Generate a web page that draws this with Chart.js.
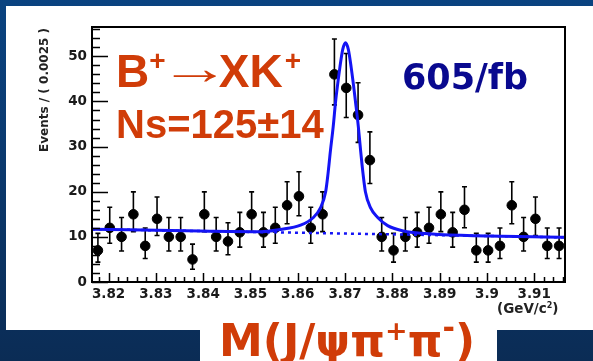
<!DOCTYPE html>
<html>
<head>
<meta charset="utf-8">
<script src="https://cdn.jsdelivr.net/npm/chart.js@4.4.0/dist/chart.umd.min.js"></script>
<style>
  html, body { margin: 0; padding: 0; }
  body {
    width: 593px; height: 361px; overflow: hidden; position: relative;
    background: linear-gradient(180deg, #0a4380 0%, #0b3a70 40%, #0b2c55 100%);
  }
  .panel { position: absolute; left: 6px; top: 6px; width: 587px; height: 324px; background: #fff; }
  .tab   { position: absolute; left: 200px; top: 329px; width: 297px; height: 40px; background: #fff; }
  #plot  { position: absolute; left: 0; top: 0; }
</style>
</head>
<body>
<div class="panel"></div>
<div class="tab"></div>
<canvas id="plot" width="593" height="361"></canvas>
<script>
// bin centres, 0.0025 GeV wide bins
const massBins = [
  3.81775, 3.82025, 3.82275, 3.82525, 3.82775, 3.83025, 3.83275, 3.83525, 3.83775, 3.84025,
  3.84275, 3.84525, 3.84775, 3.85025, 3.85275, 3.85525, 3.85775, 3.86025, 3.86275, 3.86525,
  3.86775, 3.87025, 3.87275, 3.87525, 3.87775, 3.88025, 3.88275, 3.88525, 3.88775, 3.89025,
  3.89275, 3.89525, 3.89775, 3.90025, 3.90275, 3.90525, 3.90775, 3.91025, 3.91275, 3.91525
];
const events = [
  7, 12, 10, 15, 8, 14, 10, 10, 5, 15,
  10, 9, 11, 15, 11, 12, 17, 19, 12, 15,
  46, 43, 37, 27, 10, 7, 10, 11, 12, 15,
  11, 16, 7, 7, 8, 17, 10, 14, 8, 8
];

// fitted signal + background curve
const fitMass = [
  3.8165, 3.8394, 3.8521, 3.8563, 3.8606, 3.8633, 3.8648, 3.8659, 3.8664, 3.8669,
  3.8675, 3.8680, 3.8684, 3.8689, 3.8695, 3.8701, 3.8707, 3.8713, 3.8718, 3.8722,
  3.8728, 3.8733, 3.8738, 3.8743, 3.8754, 3.8769, 3.8790, 3.8824, 3.8860, 3.9165
];
const fitEvents = [
  11.7, 11.3, 11.15, 11.65, 12.6, 14.3, 16.4, 20, 24, 29,
  34.5, 40, 43.5, 47.5, 51.5, 53, 51.5, 47.5, 43.5, 40,
  34.5, 29, 24, 20, 16.4, 14.3, 12.5, 11.3, 10.8, 9.9
];

// background component only (dotted)
const bkgMass = [3.8165, 3.9165];
const bkgEvents = [11.7, 9.9];

const xTicks = [3.82, 3.83, 3.84, 3.85, 3.86, 3.87, 3.88, 3.89, 3.90, 3.91];
const yTicks = [0, 10, 20, 30, 40, 50];

const ORANGE = '#d03c08';
const BLUE = '#1414f5';

// poisson 68% interval half-widths
function errLow(n)  { return n > 0 ? Math.sqrt(n - 0.25) : 0; }
function errHigh(n) { return Math.sqrt(n + 0.75) + 1; }

// draw text made of pieces: [text, font, raise, stretchX, shiftBefore, shiftAfter]
function drawRuns(ctx, x, y, runs) {
  runs.forEach(([t, f, dy, sx, pre, post]) => {
    sx = sx || 1;
    x += pre || 0;
    ctx.font = f;
    ctx.save();
    ctx.translate(x, y - (dy || 0));
    ctx.scale(sx, 1);
    ctx.fillText(t, 0, 0);
    ctx.restore();
    x += ctx.measureText(t).width * sx + (post || 0);
  });
}

const rootStyle = {
  id: 'rootStyle',
  beforeDatasetsDraw(chart) {
    const { ctx, scales: { x, y } } = chart;
    ctx.save();
    ctx.strokeStyle = '#000';
    ctx.lineWidth = 1.6;
    massBins.forEach((m, i) => {
      const n = events[i];
      const px = x.getPixelForValue(m);
      const y1 = y.getPixelForValue(n - errLow(n));
      const y2 = y.getPixelForValue(n + errHigh(n));
      ctx.beginPath();
      ctx.moveTo(px, y1); ctx.lineTo(px, y2);
      ctx.moveTo(px - 2.5, y1); ctx.lineTo(px + 2.5, y1);
      ctx.moveTo(px - 2.5, y2); ctx.lineTo(px + 2.5, y2);
      ctx.stroke();
    });
    ctx.restore();
  },
  afterDraw(chart) {
    const { ctx, chartArea: a, scales: { x, y } } = chart;
    ctx.save();
    ctx.strokeStyle = '#000';

    // inner ticks, left axis
    ctx.lineWidth = 1.5;
    ctx.beginPath();
    for (let v = 0; v <= 56; v += 2) {
      const py = Math.round(y.getPixelForValue(v)) + 0.5;
      const len = v % 10 === 0 ? 16 : 8;
      ctx.moveTo(a.left, py); ctx.lineTo(a.left + len, py);
    }
    // inner ticks, bottom axis
    for (let k = 0; k <= 50; k++) {
      const v = 3.818 + k * 0.002;
      if (v > 3.9165) break;
      const px = Math.round(x.getPixelForValue(v)) + 0.5;
      const len = k % 5 === 1 ? 9 : 5;
      ctx.moveTo(px, a.bottom); ctx.lineTo(px, a.bottom - len);
    }
    ctx.stroke();

    // frame
    ctx.lineWidth = 2;
    ctx.strokeRect(a.left, a.top, a.right - a.left, a.bottom - a.top);

    // axis titles
    ctx.fillStyle = '#222';
    ctx.save();
    ctx.translate(45, a.top + 1);
    ctx.rotate(-Math.PI / 2);
    ctx.textAlign = 'right';
    ctx.textBaseline = 'middle';
    ctx.font = 'bold 12px "DejaVu Sans"';
    ctx.fillText('Events / ( 0.0025 )', 0, 0);
    ctx.restore();

    ctx.textAlign = 'left';
    ctx.textBaseline = 'alphabetic';
    drawRuns(ctx, 497, 313, [
      ['(GeV/c', 'bold 13.5px "DejaVu Sans"'],
      ['2', 'bold 8px "DejaVu Sans"', 5],
      [')', 'bold 13.5px "DejaVu Sans"']
    ]);

    // labels on the plot
    ctx.fillStyle = ORANGE;
    drawRuns(ctx, 116, 87, [
      ['B', 'bold 46px "Liberation Sans"'],
      ['+', 'bold 28px "Liberation Sans"', 17],
      ['\u2192', '46px "Liberation Sans"', 3, 1.55, -6, -12],
      ['XK', 'bold 46px "Liberation Sans"'],
      ['+', 'bold 28px "Liberation Sans"', 17, 1, 2]
    ]);
    ctx.font = 'bold 40px "Liberation Sans"';
    ctx.fillText('Ns=125\u00b114', 116, 138);

    ctx.fillStyle = '#09098f';
    ctx.font = 'bold 35px "DejaVu Sans"';
    ctx.fillText('605/fb', 402, 89);

    ctx.fillStyle = ORANGE;
    drawRuns(ctx, 219, 356, [
      ['M(J/\u03c8\u03c0', 'bold 44px "DejaVu Sans"'],
      ['+', 'bold 27px "DejaVu Sans"', 16],
      ['\u03c0', 'bold 44px "DejaVu Sans"'],
      ['-', 'bold 30px "DejaVu Sans"', 18],
      [')', 'bold 44px "DejaVu Sans"']
    ]);
    ctx.restore();
  }
};

const tickFont = { family: '"DejaVu Sans"', size: 13.5, weight: 'bold' };

new Chart(document.getElementById('plot'), {
  type: 'scatter',
  data: {
    datasets: [
      {
        label: 'fit',
        data: fitMass.map((m, i) => ({ x: m, y: fitEvents[i] })),
        showLine: true,
        borderColor: BLUE,
        borderWidth: 3,
        pointRadius: 0,
        cubicInterpolationMode: 'monotone',
        order: 1
      },
      {
        label: 'background',
        data: bkgMass.map((m, i) => ({ x: m, y: bkgEvents[i] })),
        showLine: true,
        borderColor: BLUE,
        borderWidth: 2.5,
        borderDash: [3, 4],
        pointRadius: 0,
        order: 2
      },
      {
        label: 'data',
        data: massBins.map((m, i) => ({ x: m, y: events[i] })),
        pointRadius: 4.8,
        pointBackgroundColor: '#000',
        pointBorderColor: '#000',
        pointBorderWidth: 1,
        order: 3
      }
    ]
  },
  options: {
    responsive: false,
    animation: false,
    events: [],
    layout: { padding: { top: 27, right: 28, left: 0, bottom: 0 } },
    plugins: { legend: { display: false }, tooltip: { enabled: false } },
    scales: {
      x: {
        type: 'linear',
        min: 3.8165,
        max: 3.9165,
        afterBuildTicks: s => { s.ticks = xTicks.map(v => ({ value: v })); },
        afterFit: s => { s.height = 79; },
        grid: { display: false, drawTicks: false },
        border: { display: false },
        ticks: {
          autoSkip: false, maxRotation: 0, padding: 4,
          color: '#1a1a1a', font: tickFont,
          callback: v => String(+v.toFixed(2))
        }
      },
      y: {
        min: 0,
        max: 56.5,
        afterBuildTicks: s => { s.ticks = yTicks.map(v => ({ value: v })); },
        afterFit: s => { s.width = 92; },
        grid: { display: false, drawTicks: false },
        border: { display: false },
        ticks: { padding: 5, color: '#1a1a1a', font: tickFont }
      }
    }
  },
  plugins: [rootStyle]
});
</script>
</body>
</html>
